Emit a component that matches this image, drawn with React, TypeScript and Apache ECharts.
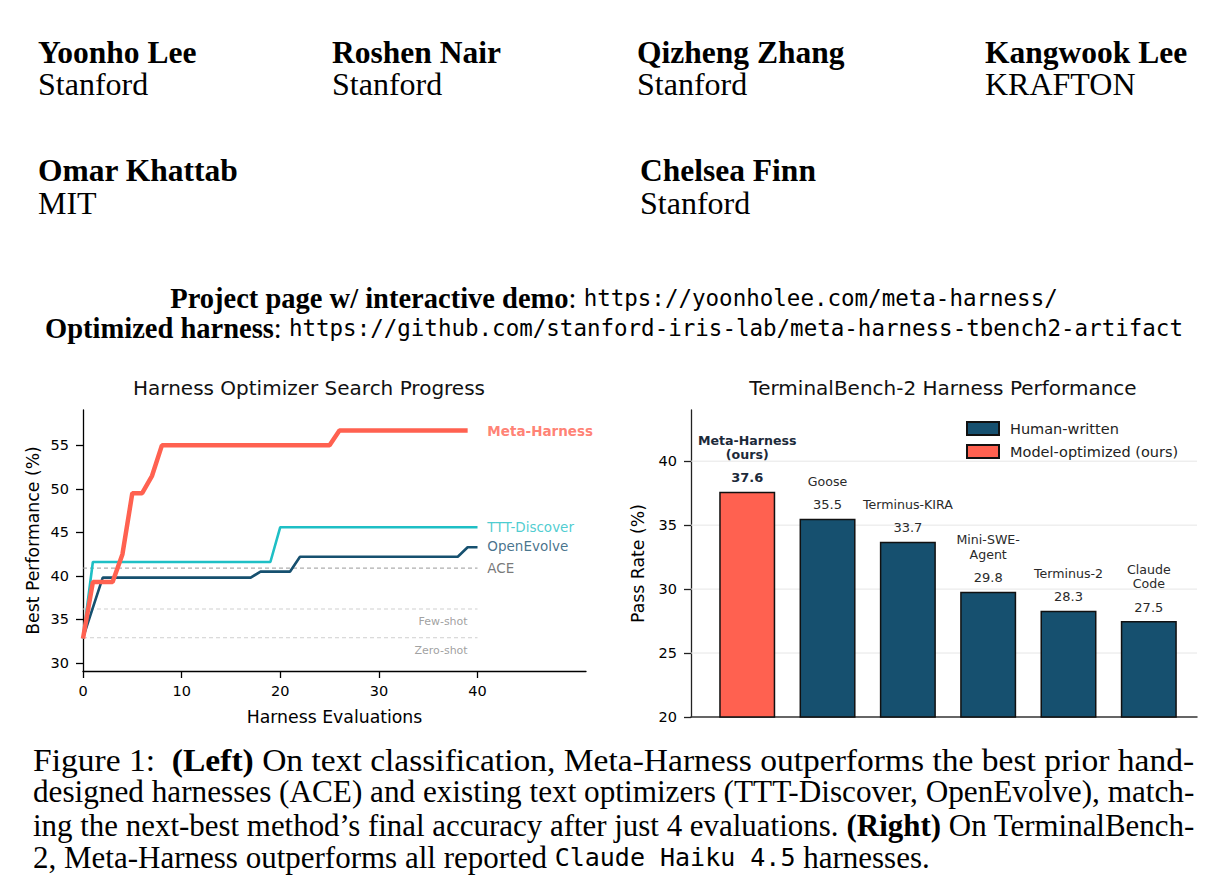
import React, { useEffect, useRef } from "react";
import * as echarts from "echarts";

// ---------- Left chart data ----------
const metaHarness: number[][] = [
  [0, 32.8], [1, 39.3], [3, 39.3], [4, 42.5], [5, 49.5], [6, 49.5],
  [7, 51.5], [8, 55.0], [25, 55.0], [26, 56.7], [39, 56.7],
];
const tttDiscover: number[][] = [
  [0, 32.8], [1, 41.6], [19, 41.6], [20, 45.6], [40, 45.6],
];
const openEvolve: number[][] = [
  [0, 32.9], [2, 39.8], [17, 39.8], [18, 40.5], [21, 40.5],
  [22, 42.2], [38, 42.2], [39, 43.3], [40, 43.3],
];
const baselineNames = ["ACE", "Few-shot", "Zero-shot"];
const baselineValues = [40.9, 36.2, 32.9];
const leftXTicks = [0, 10, 20, 30, 40];
const leftYTicks = [30, 35, 40, 45, 50, 55];

// ---------- Right chart data ----------
const harnessNames = [
  "Meta-Harness\n(ours)", "Goose", "Terminus-KIRA",
  "Mini-SWE-\nAgent", "Terminus-2", "Claude\nCode",
];
const passRates = [37.6, 35.5, 33.7, 29.8, 28.3, 27.5];
const harnessGroups = [
  "Model-optimized (ours)", "Human-written", "Human-written",
  "Human-written", "Human-written", "Human-written",
];
const rightYTicks = [20, 25, 30, 35, 40];
const legendNames = ["Human-written", "Model-optimized (ours)"];

// ---------- Page text ----------
const authorNames = ["Yoonho Lee", "Roshen Nair", "Qizheng Zhang", "Kangwook Lee", "Omar Khattab", "Chelsea Finn"];
const authorAffiliations = ["Stanford", "Stanford", "Stanford", "KRAFTON", "MIT", "Stanford"];
const linkLines = [
  "{b|Project page w/ interactive demo}: {m|https://yoonholee.com/meta-harness/}",
  "{b|Optimized harness}: {m|https://github.com/stanford-iris-lab/meta-harness-tbench2-artifact}",
];
const captionLines = [
  "Figure 1:  {b|(Left)} On text classification, Meta-Harness outperforms the best prior hand-",
  "designed harnesses (ACE) and existing text optimizers (TTT-Discover, OpenEvolve), match-",
  "ing the next-best method\u2019s final accuracy after just 4 evaluations. {b|(Right)} On TerminalBench-",
  "2, Meta-Harness outperforms all reported {m|Claude Haiku 4.5} harnesses.",
];

// ---------- Styling ----------
const RED = "#FF6150";
const CYAN = "#1EBFC5";
const NAVY = "#16506F";
const SANS = "DejaVu Sans";
const SERIF = "Liberation Serif";
const MONO = "DejaVu Sans Mono";
const CAP_SIZE = 31;
const CAP_MONO_SIZE = 25;
const LINK_MONO_SIZE = 22.5;

function measureRich(line: string, fonts: Record<string, string>): number {
  const ctx = document.createElement("canvas").getContext("2d");
  if (!ctx) return 0;
  let w = 0;
  const re = /\{(\w+)\|([^}]*)\}/g;
  let last = 0;
  let m: RegExpExecArray | null;
  const add = (t: string, f: string) => {
    if (!t) return;
    ctx.font = f;
    w += ctx.measureText(t).width;
  };
  while ((m = re.exec(line))) {
    add(line.slice(last, m.index), fonts.base);
    add(m[2], fonts[m[1]] || fonts.base);
    last = m.index + m[0].length;
  }
  add(line.slice(last), fonts.base);
  return w;
}

function buildOption(): any {
  const baselineSeries = baselineNames.map((n, i) => ({
    type: "line",
    name: n,
    xAxisIndex: 0,
    yAxisIndex: 0,
    data: [[0, baselineValues[i]], [40, baselineValues[i]]],
    showSymbol: false,
    silent: true,
    z: 1,
    lineStyle: {
      color: i === 0 ? "#999999" : "#cfcfcf",
      width: 1,
      type: [4, 3],
    },
  }));

  const lineLabels = {
    type: "scatter",
    xAxisIndex: 0,
    yAxisIndex: 0,
    symbolSize: 0,
    silent: true,
    z: 6,
    data: [
      {
        value: [41, metaHarness[metaHarness.length - 1][1]],
        name: "Meta-Harness",
        label: { color: RED, fontWeight: "bold", fontSize: 13.5 },
      },
      {
        value: [41, tttDiscover[tttDiscover.length - 1][1]],
        name: "TTT-Discover",
        label: { color: CYAN },
      },
      {
        value: [41, openEvolve[openEvolve.length - 1][1] + 0.1],
        name: "OpenEvolve",
        label: { color: NAVY },
      },
      {
        value: [41, baselineValues[0]],
        name: baselineNames[0],
        label: { color: "#555555" },
      },
      {
        value: [39, baselineValues[1]],
        name: baselineNames[1],
        label: { color: "#888888", fontSize: 11, position: "left", offset: [0, 12.5] },
      },
      {
        value: [39, baselineValues[2]],
        name: baselineNames[2],
        label: { color: "#888888", fontSize: 11, position: "left", offset: [0, 12.5] },
      },
    ],
    label: {
      show: true,
      position: "right",
      distance: 0,
      formatter: (p: any) => p.name,
      fontFamily: SANS,
      fontSize: 13.5,
    },
  };

  const barLabel = {
    show: true,
    position: "top",
    distance: -2,
    formatter: (p: any) => {
      const bold = p.seriesName === "Model-optimized (ours)";
      const nk = bold ? "nb" : "n";
      const vk = bold ? "vb" : "v";
      const lines = String(p.name)
        .split("\n")
        .map((l: string) => `{${nk}|${l}}`)
        .join("\n");
      return `${lines}\n{${vk}|${p.value[1].toFixed(1)}}`;
    },
    rich: {
      n: { fontFamily: SANS, fontSize: 12.6, lineHeight: 14.5, color: "#2a2a2a" },
      v: { fontFamily: SANS, fontSize: 13, lineHeight: 32, color: "#2a2a2a" },
      nb: { fontFamily: SANS, fontSize: 12.6, lineHeight: 14.5, fontWeight: "bold", color: "#1c2a3a" },
      vb: { fontFamily: SANS, fontSize: 13, lineHeight: 32, fontWeight: "bold", color: "#1c2a3a" },
    },
  };

  const barSeries = legendNames.map((g) => ({
    type: "bar",
    name: g,
    xAxisIndex: 1,
    yAxisIndex: 1,
    barWidth: 56,
    barGap: "-100%",
    z: 3,
    itemStyle: {
      color: g === "Human-written" ? NAVY : RED,
      borderColor: "#111111",
      borderWidth: 1.5,
    },
    label: barLabel,
    data: passRates
      .map((v, i) => ({ value: [i, v], name: harnessNames[i], g: harnessGroups[i] }))
      .filter((d) => d.g === g)
      .map((d) => ({ value: d.value, name: d.name })),
  }));

  const gridLineSeries = rightYTicks.slice(1).map((v) => ({
    type: "line",
    xAxisIndex: 1,
    yAxisIndex: 1,
    data: [[-0.7, v], [5.6, v]],
    showSymbol: false,
    silent: true,
    z: 1,
    lineStyle: { color: "#e6e6e6", width: 1 },
  }));

  const txt = (text: string, x: number, y: number, style: any = {}, extra: any = {}) => ({
    type: "text",
    x,
    y,
    silent: true,
    ...extra,
    style: {
      text,
      fill: "#000",
      fontFamily: SERIF,
      fontSize: 30,
      verticalAlign: "middle",
      align: "left",
      ...style,
    },
  });

  const nameStyle = { fontWeight: "bold", fontSize: 31.5 };
  const affStyle = { fontSize: 32 };
  const authorX = [38, 332, 637, 985, 38, 640];
  const nameY = [52, 52, 52, 52, 170, 170];
  const affY = [84, 84, 84, 84, 203, 203];

  const capRich = {
    b: { fontFamily: SERIF, fontSize: CAP_SIZE, fontWeight: "bold" },
    m: { fontFamily: MONO, fontSize: CAP_MONO_SIZE },
  };
  const capFonts = {
    base: `${CAP_SIZE}px "${SERIF}"`,
    b: `bold ${CAP_SIZE}px "${SERIF}"`,
    m: `${CAP_MONO_SIZE}px "${MONO}"`,
  };
  const linkRich = {
    b: { fontFamily: SERIF, fontSize: 28.5, fontWeight: "bold" },
    m: { fontFamily: MONO, fontSize: LINK_MONO_SIZE },
  };

  const capLeft = 33;
  const capRight = 1195;
  const capY = [760, 792, 825, 857];
  const captionEls = captionLines.map((line, i) => {
    let scaleX = 1;
    if (i < captionLines.length - 1) {
      const w = measureRich(line, capFonts);
      if (w > 0) scaleX = (capRight - capLeft) / w;
    }
    return txt(line, capLeft, capY[i], { fontSize: CAP_SIZE, rich: capRich }, { scaleX });
  });

  const graphic = [
    ...authorNames.map((n, i) => txt(n, authorX[i], nameY[i], nameStyle)),
    ...authorAffiliations.map((a, i) => txt(a, authorX[i], affY[i], affStyle)),
    txt(linkLines[0], 614, 298, { align: "center", fontSize: 28.5, rich: linkRich }),
    txt(linkLines[1], 614, 328, { align: "center", fontSize: 28.5, rich: linkRich }),
    txt("Harness Optimizer Search Progress", 309, 388, {
      fontFamily: SANS, fontSize: 20, align: "center", fill: "#111",
    }),
    txt("TerminalBench-2 Harness Performance", 943, 388, {
      fontFamily: SANS, fontSize: 20, align: "center", fill: "#111",
    }),
    ...captionEls,
  ];

  const axisLineBlack = { show: true, onZero: false, lineStyle: { color: "#000", width: 1.3 } };
  const tickBlack = { show: true, length: 7, lineStyle: { color: "#000", width: 1.3 } };
  const tickLabel = { fontFamily: SANS, fontSize: 14.5, color: "#000" };
  const axisName = { fontFamily: SANS, fontSize: 17.3, color: "#000" };

  return {
    animation: false,
    backgroundColor: "#ffffff",
    textStyle: { fontFamily: SANS },
    grid: [
      { left: 83, top: 410, width: 503, height: 261, containLabel: false },
      { left: 691, top: 410, width: 506, height: 307, containLabel: false },
    ],
    xAxis: [
      {
        gridIndex: 0,
        type: "value",
        min: 0,
        max: 51,
        axisLine: axisLineBlack,
        axisTick: { ...tickBlack, customValues: leftXTicks },
        axisLabel: { ...tickLabel, margin: 12, customValues: leftXTicks },
        splitLine: { show: false },
        name: "Harness Evaluations",
        nameLocation: "middle",
        nameGap: 37,
        nameTextStyle: axisName,
      },
      {
        gridIndex: 1,
        type: "value",
        min: -0.7,
        max: 5.6,
        axisLine: { show: true, onZero: false, lineStyle: { color: "#333", width: 1.5 } },
        axisTick: { show: false },
        axisLabel: { show: false },
        splitLine: { show: false },
      },
    ],
    yAxis: [
      {
        gridIndex: 0,
        type: "value",
        min: 29.08,
        max: 59.06,
        axisLine: axisLineBlack,
        axisTick: { ...tickBlack, customValues: leftYTicks },
        axisLabel: { ...tickLabel, margin: 14, customValues: leftYTicks },
        splitLine: { show: false },
        name: "Best Performance (%)",
        nameLocation: "middle",
        nameGap: 42,
        nameTextStyle: axisName,
      },
      {
        gridIndex: 1,
        type: "value",
        min: 20,
        max: 44,
        axisLine: { show: true, onZero: false, lineStyle: { color: "#222", width: 1.3 } },
        axisTick: { show: true, length: 7, lineStyle: { color: "#222", width: 1.3 }, customValues: rightYTicks },
        axisLabel: { ...tickLabel, margin: 14, customValues: rightYTicks },
        splitLine: { show: false },
        name: "Pass Rate (%)",
        nameLocation: "middle",
        nameGap: 45,
        nameTextStyle: axisName,
      },
    ],
    legend: {
      data: legendNames,
      orient: "vertical",
      left: 966,
      top: 421,
      itemWidth: 32,
      itemHeight: 13,
      itemGap: 8,
      icon: "rect",
      selectedMode: false,
      padding: 0,
      textStyle: { fontFamily: SANS, fontSize: 14.5, color: "#222", padding: [0, 0, 0, 6] },
    },
    graphic,
    series: [
      ...baselineSeries,
      {
        type: "line",
        name: "OpenEvolve",
        xAxisIndex: 0,
        yAxisIndex: 0,
        data: openEvolve,
        showSymbol: false,
        z: 2,
        lineStyle: { color: NAVY, width: 2.6 },
      },
      {
        type: "line",
        name: "TTT-Discover",
        xAxisIndex: 0,
        yAxisIndex: 0,
        data: tttDiscover,
        showSymbol: false,
        z: 3,
        lineStyle: { color: CYAN, width: 2.6 },
      },
      {
        type: "line",
        name: "Meta-Harness",
        xAxisIndex: 0,
        yAxisIndex: 0,
        data: metaHarness,
        showSymbol: false,
        z: 4,
        lineStyle: { color: RED, width: 4.5 },
      },
      lineLabels,
      ...gridLineSeries,
      ...barSeries,
    ],
  };
}

export default function App() {
  const ref = useRef<HTMLDivElement>(null);
  useEffect(() => {
    if (!ref.current) return;
    const chart = echarts.init(ref.current, undefined, { renderer: "svg" });
    chart.setOption(buildOption());
    return () => chart.dispose();
  }, []);
  return (
    <div
      ref={ref}
      style={{ position: "absolute", left: 0, top: 0, width: 1228, height: 888, background: "#fff" }}
    />
  );
}
